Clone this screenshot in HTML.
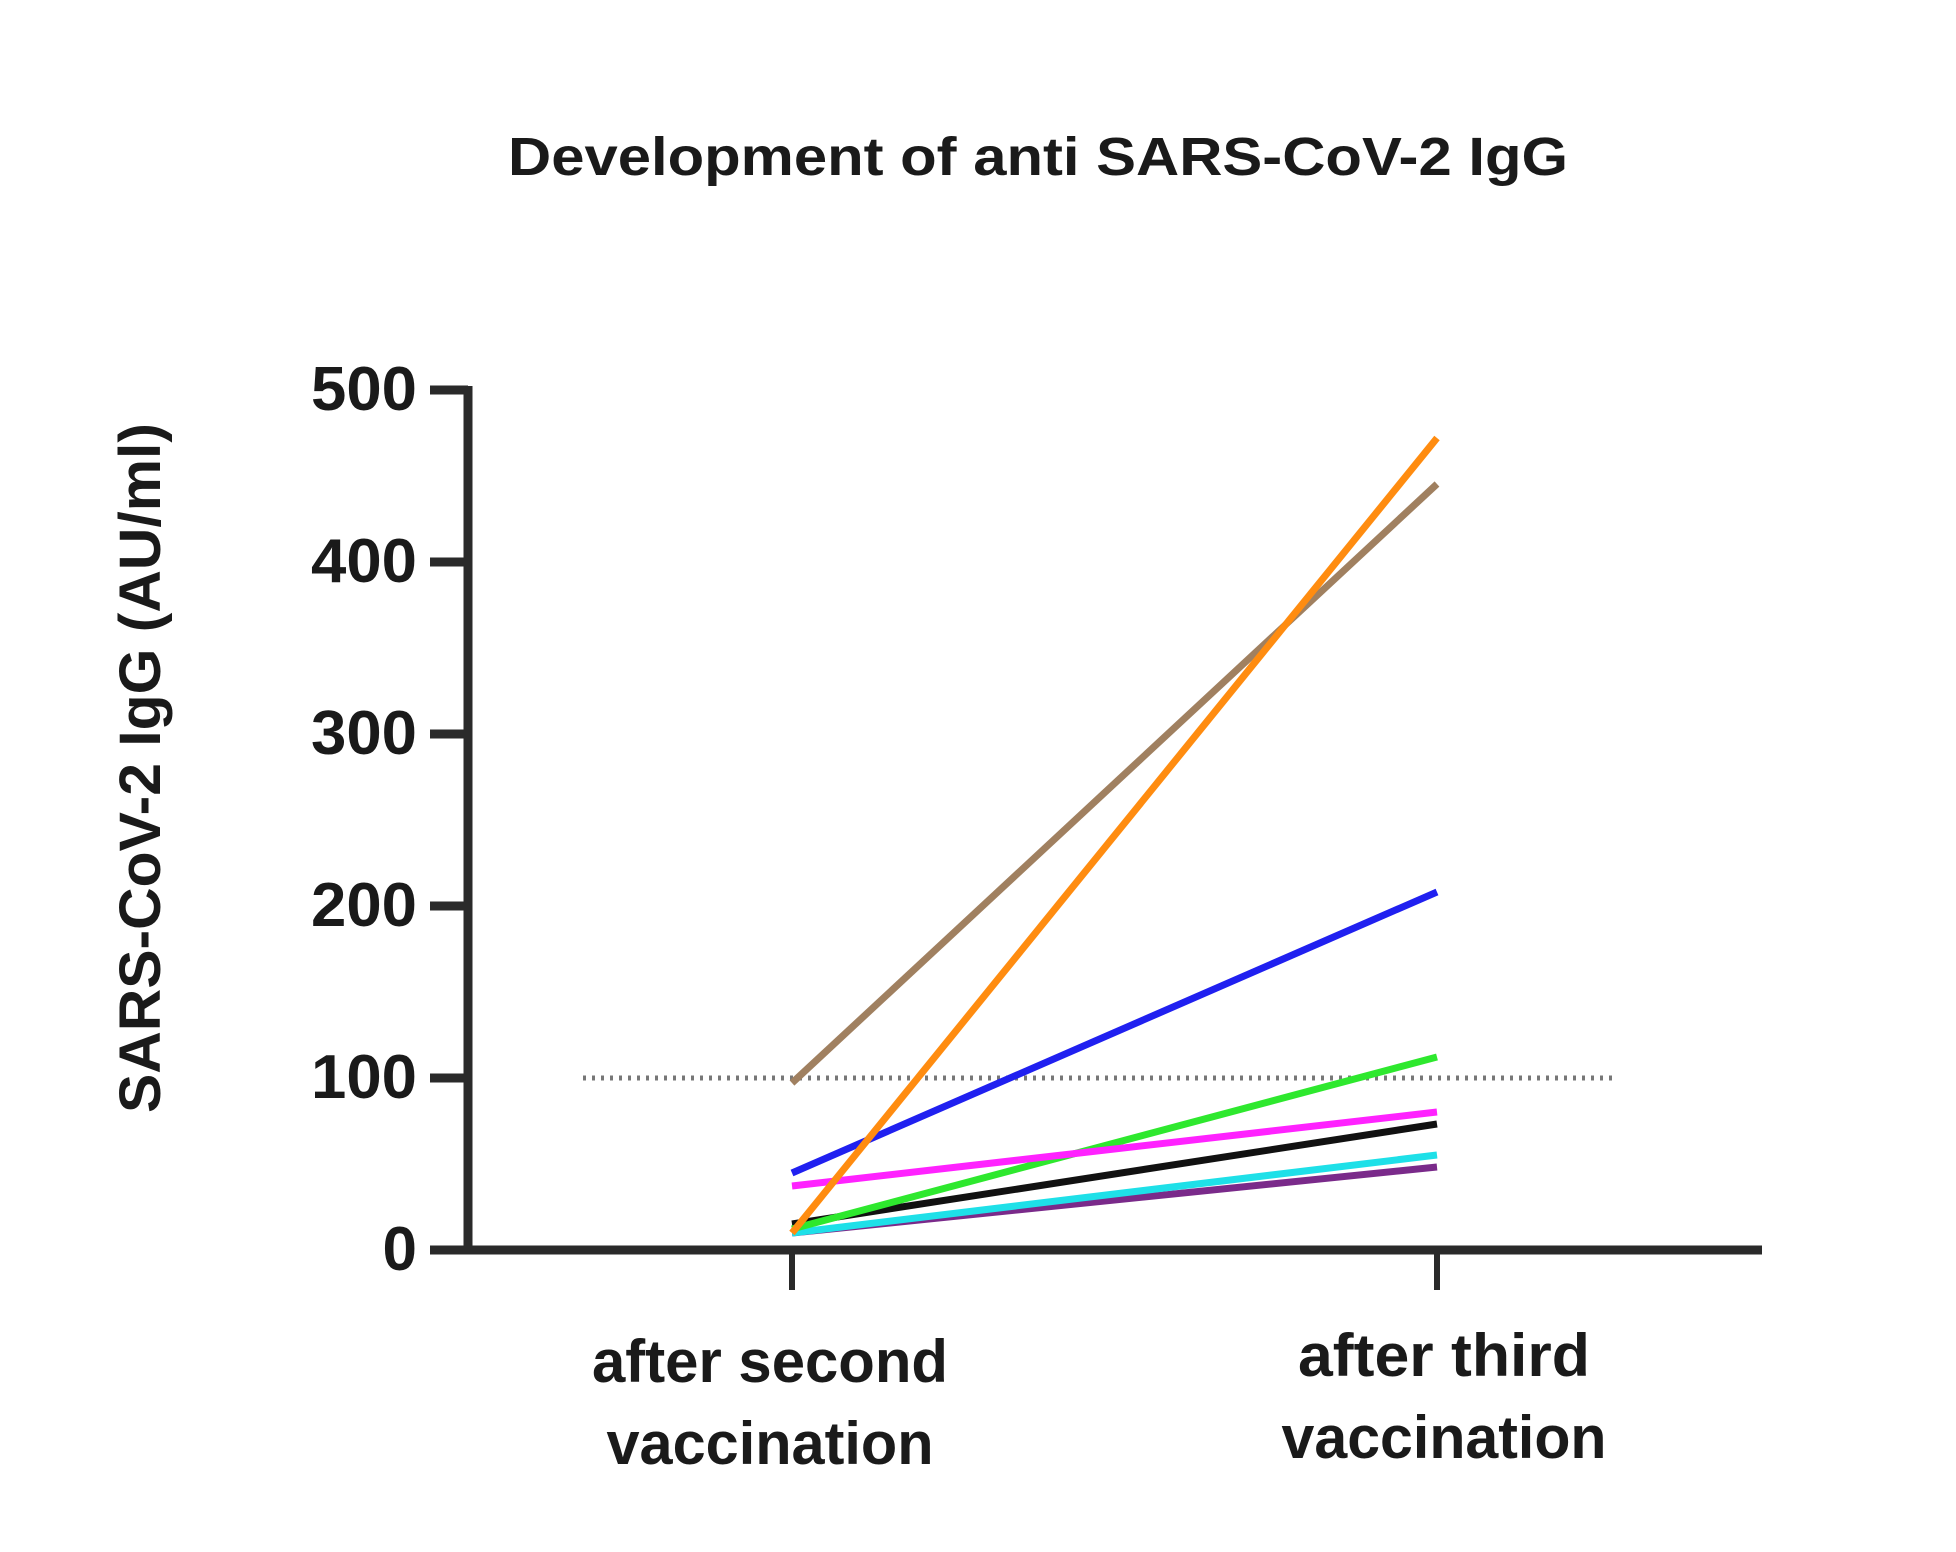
<!DOCTYPE html>
<html><head><meta charset="utf-8"><style>
html,body{margin:0;padding:0;background:#fff;}
svg{display:block;}
text{font-family:"Liberation Sans",sans-serif;font-weight:bold;fill:#1a1a1a;}
</style></head><body>
<svg width="1956" height="1552" viewBox="0 0 1956 1552" xmlns="http://www.w3.org/2000/svg">
<text x="1038" y="175" font-size="54" text-anchor="middle" textLength="1060" lengthAdjust="spacingAndGlyphs">Development of anti SARS-CoV-2 IgG</text>
<text transform="translate(160,768) rotate(-90)" font-size="58" text-anchor="middle" textLength="690" lengthAdjust="spacingAndGlyphs">SARS-CoV-2 IgG (AU/ml)</text>
<g stroke="#2a2a2a" stroke-width="9" fill="none">
<line x1="468" y1="386" x2="468" y2="1254"/>
<line x1="430" y1="1250" x2="1762" y2="1250"/>
<line x1="430" y1="390" x2="468" y2="390"/>
<line x1="430" y1="562" x2="468" y2="562"/>
<line x1="430" y1="734" x2="468" y2="734"/>
<line x1="430" y1="906" x2="468" y2="906"/>
<line x1="430" y1="1078" x2="468" y2="1078"/>
<line x1="792" y1="1250" x2="792" y2="1290" stroke-width="6"/>
<line x1="1437" y1="1250" x2="1437" y2="1290" stroke-width="6"/>
</g>
<g font-size="62" text-anchor="end">
<text x="417" y="410" textLength="106" lengthAdjust="spacingAndGlyphs">500</text>
<text x="417" y="582" textLength="106" lengthAdjust="spacingAndGlyphs">400</text>
<text x="417" y="754" textLength="106" lengthAdjust="spacingAndGlyphs">300</text>
<text x="417" y="926" textLength="106" lengthAdjust="spacingAndGlyphs">200</text>
<text x="417" y="1098" textLength="106" lengthAdjust="spacingAndGlyphs">100</text>
<text x="417" y="1270">0</text>
</g>
<g font-size="60" text-anchor="middle">
<text x="770" y="1382" textLength="356" lengthAdjust="spacingAndGlyphs">after second</text>
<text x="770" y="1464" textLength="327" lengthAdjust="spacingAndGlyphs">vaccination</text>
<text x="1444" y="1376" textLength="292" lengthAdjust="spacingAndGlyphs">after third</text>
<text x="1444" y="1458" textLength="325" lengthAdjust="spacingAndGlyphs">vaccination</text>
</g>
<line x1="583" y1="1078" x2="1618" y2="1078" stroke="#777" stroke-width="5" stroke-dasharray="3,6"/>
<g stroke-width="7" fill="none" stroke-linecap="butt">
<line x1="792" y1="1233" x2="1437" y2="1167" stroke="#7a2a8a"/>
<line x1="792" y1="1224" x2="1437" y2="1124" stroke="#111"/>
<line x1="792" y1="1233" x2="1437" y2="1155" stroke="#1ee0e8"/>
<line x1="792" y1="1229" x2="1437" y2="1057" stroke="#2ee82e"/>
<line x1="792" y1="1186" x2="1437" y2="1112" stroke="#ff22ff"/>
<line x1="792" y1="1173" x2="1437" y2="892" stroke="#2020f0"/>
<line x1="792" y1="1083" x2="1437" y2="484" stroke="#a08060"/>
<line x1="792" y1="1233" x2="1437" y2="438" stroke="#ff8c10"/>
</g>
</svg>
</body></html>
